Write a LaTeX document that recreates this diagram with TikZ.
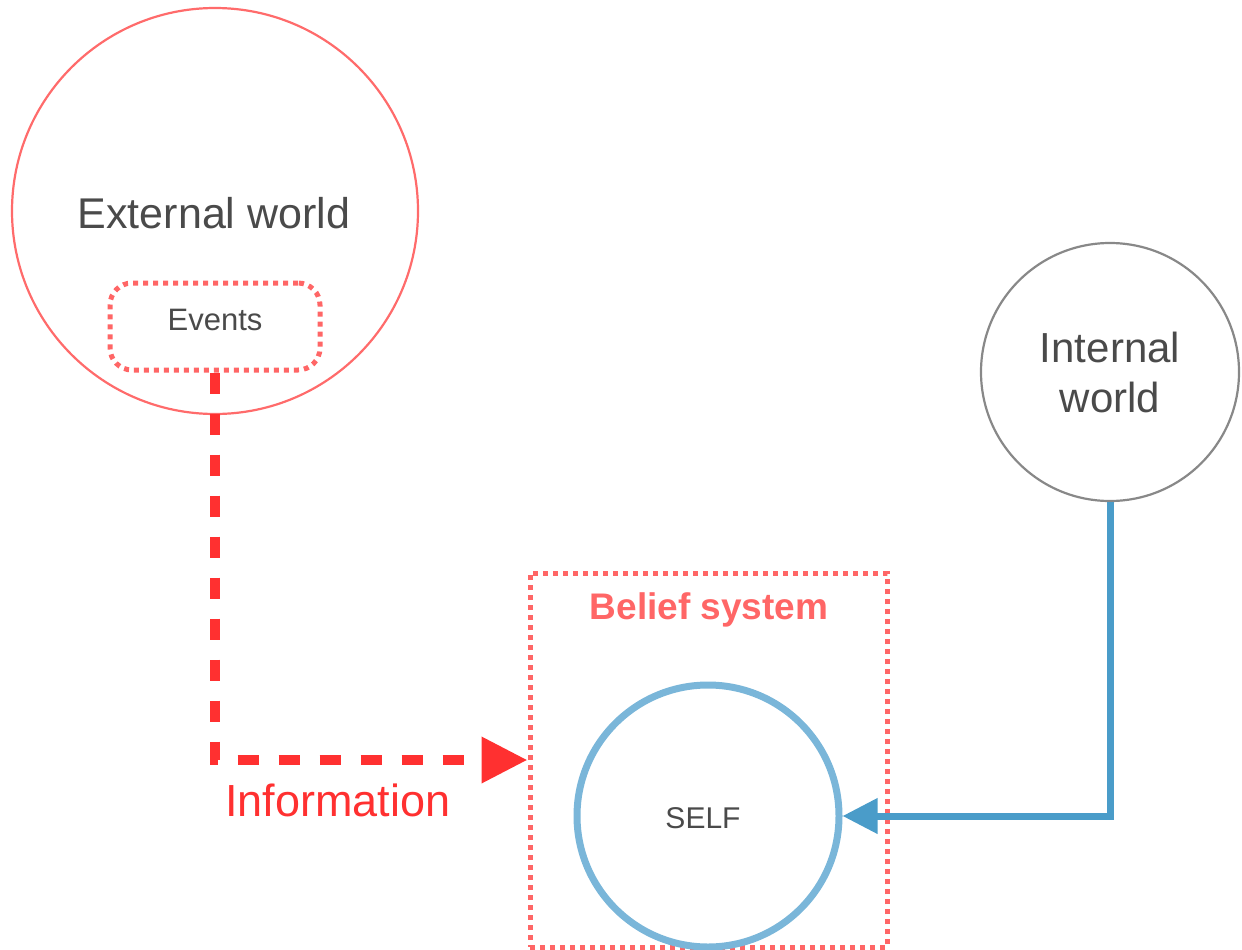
\documentclass[tikz,border=0pt]{standalone}
\usepackage{fontspec}
\setmainfont{Liberation Sans}
\usetikzlibrary{arrows.meta,shapes.misc}
\definecolor{txtgray}{HTML}{4A4A4A}
\definecolor{salmon}{HTML}{FF6B6B}
\definecolor{dotred}{HTML}{FF6666}
\definecolor{infored}{HTML}{FF3030}
\definecolor{selfblue}{HTML}{7AB6D9}
\definecolor{linkblue}{HTML}{4A9CC9}
\definecolor{ringgray}{HTML}{888888}
\tikzset{
  world/.style={circle,draw,line width=2.2pt,inner sep=0pt,text=txtgray,align=center},
  dotbox/.style={draw=dotred,line width=5pt,dash pattern=on 5pt off 5pt},
}
\begin{document}
\begin{tikzpicture}[x=1pt,y=-1pt]
\useasboundingbox (0,0) rectangle (1242,950);
\node[world,draw=salmon,minimum size=406pt] (ext) at (215,211) {};
\node[text=txtgray,font=\fontsize{43}{46}\selectfont] (extlbl) at (214,213) {External world};
\node[dotbox,rounded corners=22pt,minimum width=210pt,minimum height=87pt] (events) at (215,326.5) {};
\node[text=txtgray,font=\fontsize{31}{34}\selectfont] (evlbl) at (215,320) {Events};
\node[world,draw=ringgray,minimum size=258pt,font=\fontsize{42}{50}\selectfont] (internal) at (1110,372) {Internal\\world};
\node[dotbox,minimum width=357pt,minimum height=374pt] (belief) at (708.5,760) {};
\node[text=dotred,font=\bfseries\fontsize{37}{40}\selectfont] (blabel) at (709,610) {Belief system};
\node[circle,draw=selfblue,line width=7pt,minimum size=262pt,inner sep=0pt,text=txtgray,font=\fontsize{30}{34}\selectfont] (self) at (708,816) {};
\node[text=txtgray,font=\fontsize{30}{34}\selectfont] (selflbl) at (703,818) {SELF};
\draw[infored,line width=10pt,dash pattern=on 21pt off 20pt,-{Triangle[length=46pt,width=44pt]}] (events.south) |- (belief.west);
\node[text=infored,font=\fontsize{45}{48}\selectfont] (info) at (338,800) {Information};
\draw[linkblue,line width=7pt,-{Triangle[length=35pt,width=34pt]}] (internal.south) |- (self.east);
\end{tikzpicture}
\end{document}
